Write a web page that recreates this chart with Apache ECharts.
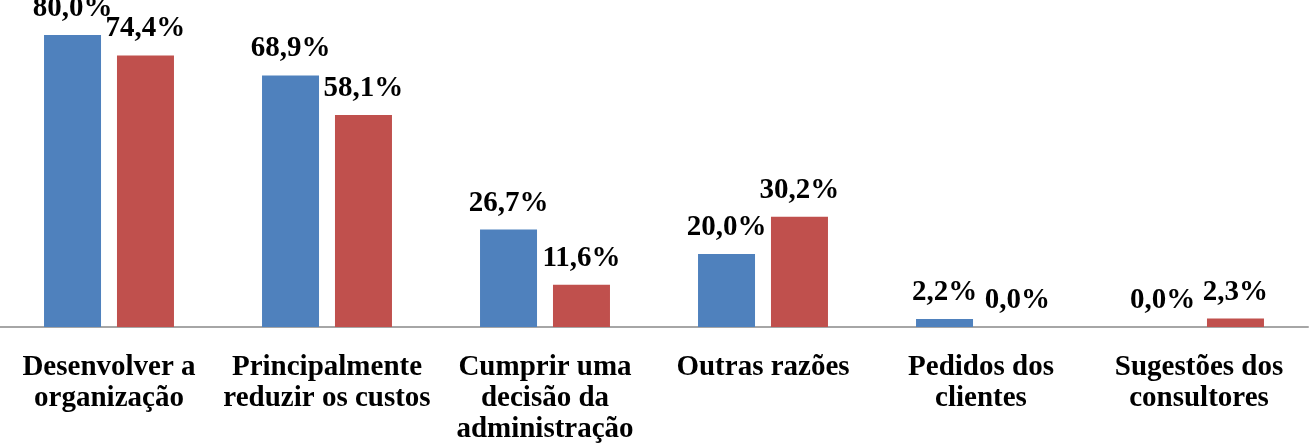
<!DOCTYPE html>
<html>
<head>
<meta charset="utf-8">
<script src="https://cdn.jsdelivr.net/npm/echarts@6/dist/echarts.min.js"></script>
<style>
  html, body { margin: 0; padding: 0; background: #fff; }
  #chart { width: 1316px; height: 447px; }
</style>
</head>
<body>
<div id="chart"></div>
<script>
const categories = [
  "Desenvolver a\norganização",
  "Principalmente\nreduzir os custos",
  "Cumprir uma\ndecisão da\nadministração",
  "Outras razões",
  "Pedidos dos\nclientes",
  "Sugestões dos\nconsultores"
];
const serieA = [80.0, 68.9, 26.7, 20.0, 2.2, 0.0];
const serieB = [74.4, 58.1, 11.6, 30.2, 0.0, 2.3];

const fontFamily = "'Liberation Serif', 'Times New Roman', serif";

// formato português: vírgula decimal
const fmt = (p) => p.value.toFixed(1).replace(".", ",") + "%";

const chart = echarts.init(document.getElementById("chart"));

const labelStyle = {
  show: true,
  position: "top",
  distance: 12,
  formatter: fmt,
  color: "#000",
  fontFamily: fontFamily,
  fontWeight: "bold",
  fontSize: 29
};

chart.setOption({
  animation: false,
  grid: { left: 0, right: 8, top: 35, bottom: 120 },
  xAxis: {
    type: "category",
    data: categories,
    axisLine: { lineStyle: { color: "#A6A6A6", width: 2 } },
    axisTick: { show: false },
    axisLabel: {
      interval: 0,
      margin: 25,
      color: "#000",
      fontFamily: fontFamily,
      fontWeight: "bold",
      fontSize: 29,
      lineHeight: 31
    }
  },
  yAxis: {
    type: "value",
    min: 0,
    max: 80,
    show: false,
    splitLine: { show: false }
  },
  series: [
    {
      name: "A",
      type: "bar",
      data: serieA,
      barWidth: 57,
      barGap: "28%",
      itemStyle: { color: "#4F81BD" },
      label: labelStyle
    },
    {
      name: "B",
      type: "bar",
      data: serieB,
      barWidth: 57,
      itemStyle: { color: "#C0504D" },
      label: labelStyle
    }
  ]
});
</script>
</body>
</html>
